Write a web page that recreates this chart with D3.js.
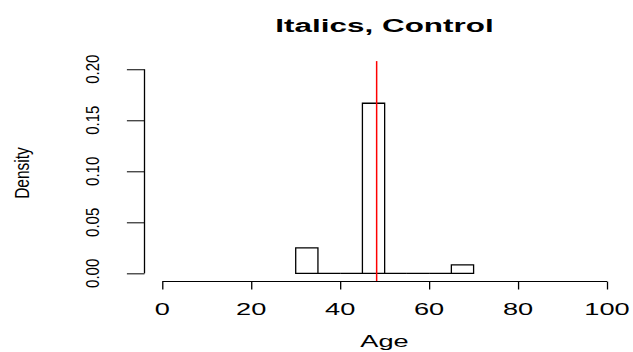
<!DOCTYPE html>
<html>
<head>
<meta charset="utf-8">
<script src="https://cdn.jsdelivr.net/npm/d3@7"></script>
<style>
  body { margin: 0; background: #fff; }
  svg { display: block; }
  text { font-family: "Liberation Sans", Arial, sans-serif; fill: #000; }
</style>
</head>
<body>
<div id="chart"></div>
<script>
// histogram of ages (density scale), bins of width 5
const binStarts = [30, 35, 40, 45, 50, 55, 60, 65];
const binWidth = 5;
const densities = [0.025, 0, 0, 0.1667, 0, 0, 0, 0.00833];
const meanAge = 48.2;
const xTicks = [0, 20, 40, 60, 80, 100];
const yTicks = [0, 0.05, 0.10, 0.15, 0.20];
const yTickLabels = ['0.00', '0.05', '0.10', '0.15', '0.20'];
const title = 'Italics, Control';
const xTitle = 'Age';
const yTitle = 'Density';

const width = 633, height = 352;
const stretch = 1.7;   // horizontal text is drawn wide
const tall = 1.25;     // rotated text is drawn condensed

const svg = d3.select('#chart')
    .append('svg')
    .attr('width', width)
    .attr('height', height);

// R style: data range padded by 4% on each side
const x = d3.scaleLinear().domain([-4, 104]).range([144.5, 624.8]);
const y = d3.scaleLinear().domain([-0.008, 0.208]).range([281.5, 61.1]);

// bars as paths so empty bins still show their base line
svg.append('g')
    .selectAll('path')
    .data(binStarts)
    .enter()
    .append('path')
    .attr('d', (d, i) => {
        const x0 = x(d), x1 = x(d + binWidth);
        const y0 = y(0), y1 = y(densities[i]);
        return `M${x0},${y0}V${y1}H${x1}V${y0}Z`;
    })
    .style('fill', 'none')
    .style('stroke', '#000')
    .style('stroke-width', 1.3);

// mean line, clipped to plot region
svg.append('line')
    .attr('x1', x(meanAge))
    .attr('x2', x(meanAge))
    .attr('y1', y(0.208))
    .attr('y2', y(-0.008))
    .style('stroke', '#ff0000')
    .style('stroke-width', 1.5);

// x axis
const xAxis = svg.append('g')
    .attr('transform', `translate(0,${y(-0.008)})`)
    .call(d3.axisBottom(x).tickValues(xTicks).tickSize(8).tickSizeOuter(0).tickFormat(''));
xAxis.select('.domain').remove();
xAxis.append('line')
    .attr('x1', x(0))
    .attr('x2', x(100))
    .style('stroke', '#000');
xAxis.selectAll('.tick line').style('stroke', '#000').style('stroke-width', 1.3);

svg.append('g')
    .selectAll('text')
    .data(xTicks)
    .enter()
    .append('text')
    .attr('transform', d => `translate(${x(d)},314.5) scale(${stretch},1)`)
    .attr('text-anchor', 'middle')
    .style('font-size', '16px')
    .text(d => d);

// y axis
const yAxis = svg.append('g')
    .attr('transform', `translate(${x(-4)},0)`)
    .call(d3.axisLeft(y).tickValues(yTicks).tickSize(17.6).tickSizeOuter(0).tickFormat(''));
yAxis.select('.domain').remove();
yAxis.append('line')
    .attr('y1', y(0))
    .attr('y2', y(0.2))
    .style('stroke', '#000')
    .style('stroke-width', 1.3);
yAxis.selectAll('.tick line').style('stroke', '#000');

svg.append('g')
    .selectAll('text')
    .data(yTicks)
    .enter()
    .append('text')
    .attr('transform', d => `translate(99,${y(d)}) rotate(-90) scale(1,${tall})`)
    .attr('text-anchor', 'middle')
    .style('font-size', '15px')
    .text((d, i) => yTickLabels[i]);

// titles
svg.append('text')
    .attr('transform', `translate(384.5,32) scale(${stretch},1)`)
    .attr('text-anchor', 'middle')
    .style('font-size', '18.5px')
    .style('font-weight', 'bold')
    .text(title);

svg.append('text')
    .attr('transform', `translate(384.5,347) scale(${stretch},1)`)
    .attr('text-anchor', 'middle')
    .style('font-size', '16px')
    .text(xTitle);

svg.append('text')
    .attr('transform', `translate(29,173) rotate(-90) scale(1,${tall})`)
    .attr('text-anchor', 'middle')
    .style('font-size', '15.5px')
    .text(yTitle);
</script>
</body>
</html>
